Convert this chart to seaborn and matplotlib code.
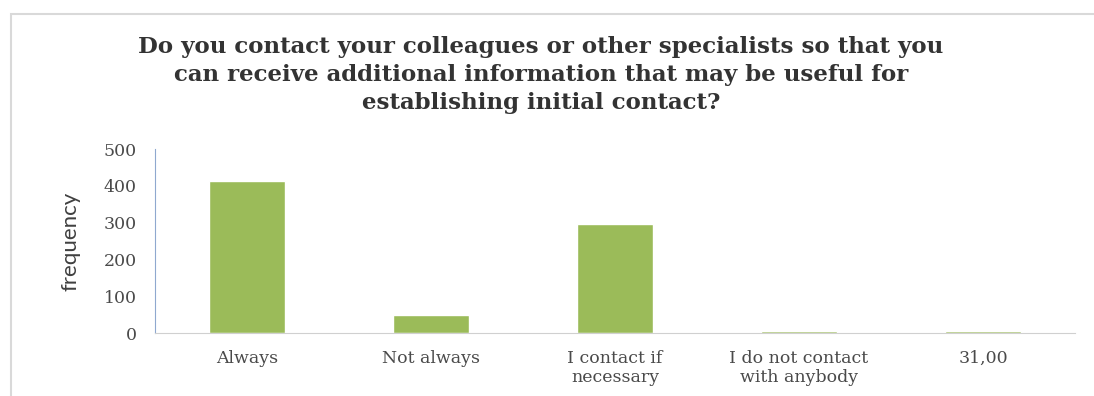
import matplotlib
matplotlib.use("Agg")
import matplotlib.pyplot as plt
import seaborn as sns
import pandas as pd
from matplotlib.ticker import FixedLocator
from matplotlib.patches import Rectangle

categories = ["Always", "Not always", "I contact if\nnecessary", "I do not contact\nwith anybody", "31,00"]
frequency = [412, 49, 296, 5, 5]
yticks = [0, 100, 200, 300, 400, 500]

df = pd.DataFrame({"category": categories, "frequency": frequency})

sns.set_style("white")
fig = plt.figure(figsize=(10.94, 3.96), dpi=100)
W, H = 1094, 396
fig.patches.append(Rectangle((11/W, -0.1), 1.2, 1 - 14/H + 0.1, transform=fig.transFigure,
                             fill=False, edgecolor="#d9d9d9", linewidth=1.5))
ax = fig.add_axes([155/W, 1-333/H, 920/W, 184/H])

sns.barplot(data=df, x="category", y="frequency", color="#9BBB59", width=0.41,
            saturation=1, ax=ax)

ax.set_xlim(-0.5, 4.5)
ax.set_ylim(0, 500)
ax.set_yticks(yticks)
ax.set_xlabel("")
ax.set_ylabel("frequency", family="Lato", fontsize=16, color="#404040")
ax.yaxis.set_label_coords(-0.0815, 0.5)
ax.xaxis.set_minor_locator(FixedLocator([-0.5, 0.5, 1.5, 2.5, 3.5, 4.5]))
ax.tick_params(axis="x", which="major", length=0, pad=12)
ax.tick_params(axis="x", which="minor", length=4, color="#d0d0d0", direction="out")
ax.tick_params(axis="y", length=5, color="#a0b4d0", direction="out", pad=8)
for lbl in ax.get_xticklabels() + ax.get_yticklabels():
    lbl.set_family("DejaVu Serif")
    lbl.set_fontsize(12.5)
    lbl.set_color("#4a4a4a")
for s in ["top", "right"]:
    ax.spines[s].set_visible(False)
ax.spines["left"].set_color("#8fa8cf")
ax.spines["bottom"].set_color("#d0d0d0")

fig.text(0.4945, 1-75/H, "Do you contact your colleagues or other specialists so that you\n"
         "can receive additional information that may be useful for\n"
         "establishing initial contact?", ha="center", va="center",
         family="DejaVu Serif", fontweight="bold", fontsize=16.5, color="#333333",
         linespacing=1.33)

fig.savefig("out.png", dpi=100)
